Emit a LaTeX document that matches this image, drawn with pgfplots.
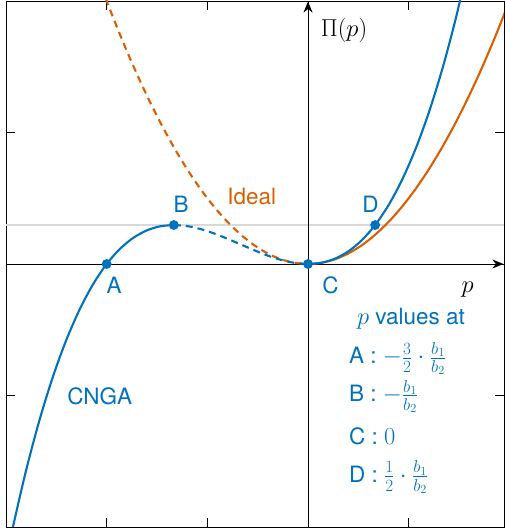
\RequirePackage{fix-cm}
\documentclass[border=0pt]{standalone}
\usepackage{fontspec}
\setmainfont{TeX Gyre Heros}
\usepackage{pgfplots}
\pgfplotsset{compat=1.18}
\usetikzlibrary{arrows.meta}
\definecolor{mBlue}{HTML}{0072BD}
\definecolor{mOrange}{HTML}{D95F02}
\newcommand{\mth}[1]{{\fontsize{24.5}{29}\selectfont$#1$}}

\begin{document}
\begin{tikzpicture}
\begin{axis}[
  scale only axis,
  width=498pt, height=526pt,
  xmin=-2.25, xmax=1.46,
  ymin=-2.25, ymax=2.25,
  xtick={-2.25,-1.5,-0.75,0,0.75},
  ytick={-2.25,-1.125,0,1.125,2.25},
  xticklabels={}, yticklabels={},
  major tick length=9pt,
  tick style={black, line width=0.6pt},
  axis line style={black, line width=0.8pt},
  clip=true,
  every axis plot/.append style={line width=2.1pt},
]

% reference level at Pi(B) = Pi(D)
\addplot[gray!30, line width=1.5pt, forget plot] coordinates {(-2.25,0.3333) (1.46,0.3333)};

% coordinate axes through the origin
\draw[black, line width=0.9pt, -{Stealth[length=11pt, width=9pt]}] (axis cs:-2.25,0) -- (axis cs:1.455,0);
\draw[black, line width=0.9pt, -{Stealth[length=11pt, width=9pt]}] (axis cs:0,-2.25) -- (axis cs:0,2.245);

% Ideal: dashed for p<0
\addplot[mOrange, smooth, dash pattern=on 7pt off 5pt] coordinates {
  (-1.6,2.56) (-1.5,2.25) (-1.4,1.96) (-1.3,1.69) (-1.2,1.44) (-1.1,1.21)
  (-1.0,1.0) (-0.9,0.81) (-0.8,0.64) (-0.7,0.49) (-0.6,0.36) (-0.5,0.25)
  (-0.4,0.16) (-0.3,0.09) (-0.2,0.04) (-0.1,0.01) (0,0)
};
% Ideal: solid for p>0
\addplot[mOrange, smooth] coordinates {
  (0,0) (0.1,0.01) (0.2,0.04) (0.3,0.09) (0.4,0.16) (0.5,0.25) (0.6,0.36)
  (0.7,0.49) (0.8,0.64) (0.9,0.81) (1.0,1.0) (1.1,1.21) (1.2,1.44)
  (1.3,1.69) (1.4,1.96) (1.5,2.25)
};

% CNGA: solid left branch
\addplot[mBlue, smooth] coordinates {
  (-2.25,-2.5313) (-2.2,-2.2587) (-2.1,-1.764) (-2.0,-1.3333) (-1.9,-0.9627)
  (-1.8,-0.648) (-1.7,-0.3853) (-1.6,-0.1707) (-1.5,0) (-1.4,0.1307)
  (-1.3,0.2253) (-1.2,0.288) (-1.1,0.3227) (-1.0,0.3333)
};
% CNGA: dashed between B and C
\addplot[mBlue, smooth, dash pattern=on 7pt off 5pt] coordinates {
  (-1.0,0.3333) (-0.9,0.324) (-0.8,0.2987) (-0.7,0.2613) (-0.6,0.216)
  (-0.5,0.1667) (-0.4,0.1173) (-0.3,0.072) (-0.2,0.0347) (-0.1,0.0093) (0,0)
};
% CNGA: solid right branch
\addplot[mBlue, smooth] coordinates {
  (0,0) (0.1,0.0107) (0.2,0.0453) (0.3,0.108) (0.4,0.2027) (0.5,0.3333)
  (0.6,0.504) (0.7,0.7187) (0.8,0.9813) (0.9,1.296) (1.0,1.6667)
  (1.1,2.0973) (1.2,2.592)
};

% points A, B, C, D
\addplot[only marks, mark=*, mark size=3.8pt, mBlue] coordinates {
  (-1.5,0) (-1.0,0.3333) (0,0) (0.5,0.3333)
};

\begin{scope}[every node/.style={font=\fontsize{22.5}{26}\selectfont}]
\node[mBlue] at (axis cs:-1.445,-0.184) {A};
\node[mBlue] at (axis cs:-0.946,0.509) {B};
\node[mBlue] at (axis cs:0.1675,-0.184) {C};
\node[mBlue] at (axis cs:0.465,0.509) {D};
\node[mOrange] at (axis cs:-0.42,0.577) {Ideal};
\node[mBlue] at (axis cs:-1.552,-1.133) {CNGA};
\node[black] at (axis cs:0.268,2.0) {\mth{\Pi(p)}};
\node[black] at (axis cs:1.19,-0.222) {\mth{p}};
\node[mBlue, anchor=base] at (axis cs:0.767,-0.52) {\mth{p} values at};
\node[mBlue, anchor=base west] at (axis cs:0.28,-0.855) {A : \mth{-\frac{3}{2}\cdot\frac{b_1}{b_2}}};
\node[mBlue, anchor=base west] at (axis cs:0.28,-1.178) {B : \mth{-\frac{b_1}{b_2}}};
\node[mBlue, anchor=base west] at (axis cs:0.28,-1.54) {C : \mth{0}};
\node[mBlue, anchor=base west] at (axis cs:0.28,-1.87) {D : \mth{\frac{1}{2}\cdot\frac{b_1}{b_2}}};
\end{scope}
\end{axis}
% margins as in the reference
\pgfresetboundingbox
\path[use as bounding box] ([shift={(-6pt,-4pt)}]current axis.south west) rectangle ([shift={(0.5pt,1pt)}]current axis.north east);
\end{tikzpicture}
\end{document}
